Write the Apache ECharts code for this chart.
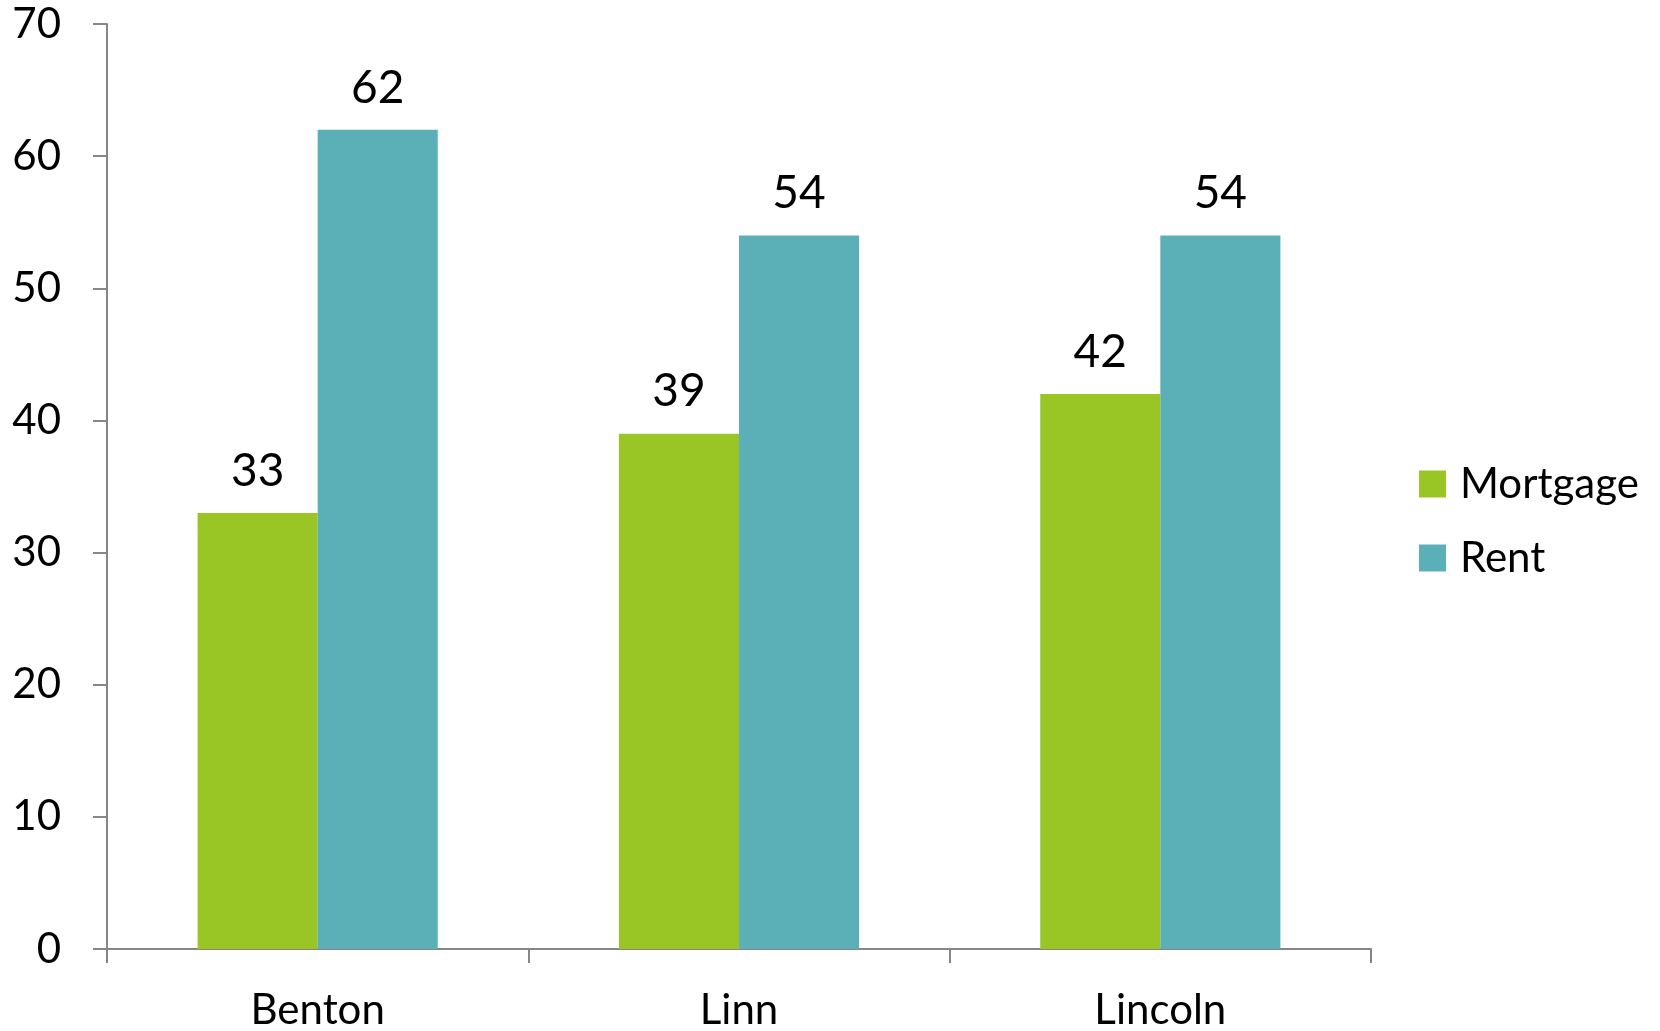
<!DOCTYPE html>
<html>
<head>
<meta charset="utf-8">
<script src="https://cdn.jsdelivr.net/npm/echarts@6/dist/echarts.min.js"></script>
<style>
html,body{margin:0;padding:0;background:#fff;}
#c{width:1660px;height:1031px;}
</style>
</head>
<body>
<div id="c"></div>
<script>
const categories = ['Benton', 'Linn', 'Lincoln'];
const mortgage = [33, 39, 42];
const rent = [62, 54, 54];
const seriesNames = ['Mortgage', 'Rent'];

const FONT = 'Lato, "Liberation Sans", sans-serif';
const chart = echarts.init(document.getElementById('c'), null, {renderer: 'canvas'});
const labelStyle = {show: true, position: 'top', distance: 19, color: '#000', fontSize: 46, fontFamily: FONT};
chart.setOption({
  backgroundColor: '#fff',
  animation: false,
  grid: {left: 107, right: 289, top: 24, bottom: 79, containLabel: false},
  legend: {
    orient: 'vertical', left: 1414, top: 458,
    itemWidth: 27, itemHeight: 27, itemGap: 32,
    icon: 'rect',
    textStyle: {fontSize: 42, fontFamily: FONT, color: '#000', padding: [0, 0, 0, 9]},
    data: seriesNames
  },
  xAxis: {
    type: 'category', data: categories,
    axisLine: {lineStyle: {color: '#868686', width: 2}},
    axisTick: {show: true, length: 14, lineStyle: {color: '#868686', width: 2}},
    axisLabel: {fontSize: 42, fontFamily: FONT, color: '#000', margin: 40}
  },
  yAxis: {
    type: 'value', min: 0, max: 70, interval: 10,
    axisLine: {show: true, lineStyle: {color: '#868686', width: 2}},
    axisTick: {show: true, length: 14, lineStyle: {color: '#868686', width: 2}},
    splitLine: {show: false},
    axisLabel: {fontSize: 42, fontFamily: FONT, color: '#000', margin: 46}
  },
  series: [
    {name: seriesNames[0], type: 'bar', data: mortgage, barGap: '0%', barCategoryGap: '43%',
     itemStyle: {color: '#99C624'}, label: labelStyle},
    {name: seriesNames[1], type: 'bar', data: rent, barGap: '0%', barCategoryGap: '43%',
     itemStyle: {color: '#5BB0B8'}, label: labelStyle}
  ]
});
</script>
</body>
</html>
